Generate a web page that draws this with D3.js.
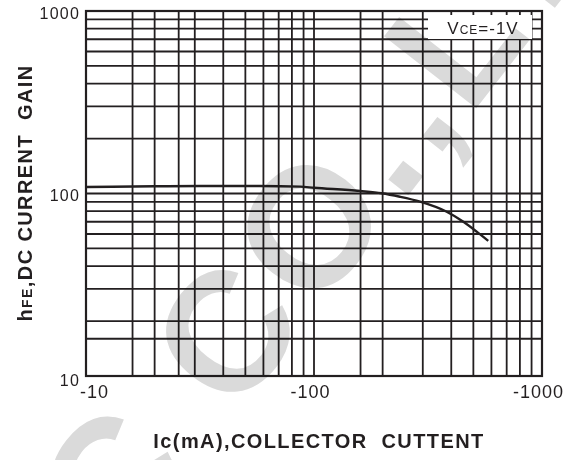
<!DOCTYPE html>
<html><head><meta charset="utf-8">
<script src="https://cdn.jsdelivr.net/npm/d3@7"></script>
<style>body{margin:0;background:#fff}svg{display:block}</style></head>
<body>
<svg id="c" width="579" height="460"></svg>
<script>
// ---- data ----
const xTickValues = [10, 100, 1000];
const xTickLabels = ["-10", "-100", "-1000"];
const yTickValues = [10, 100, 1000];
const yTickLabels = ["10", "100", "1000"];
const xGridValues = [16, 20, 25.5, 30, 40, 50, 60, 70, 80, 90, 100, 160, 200, 300, 400, 500, 600, 700, 800, 900];
const yGridValues = [16, 20, 30, 40, 50, 60, 70, 80, 90, 100, 200, 300, 400, 500, 600, 700, 800, 900];
const icValues  = [10, 20, 31.6, 58, 87, 100, 159, 198, 238, 292, 382, 452, 517, 581];
const hfeValues = [108.5, 109.5, 110, 110, 109, 107.5, 103.2, 100.3, 96, 90.2, 79.4, 70, 61.8, 55];
const watermarkText = "IC CO.,LTD";

const FONT = "'Liberation Sans', Arial, Helvetica, sans-serif";
const INK = "#231f20";
const svg = d3.select("#c");
const W = 579, H = 460;
const L = 86, R = 542, T = 11, B = 376;

const x = d3.scaleLog().domain([10, 1000]).range([L, R]);
const y = d3.scaleLog().domain([10, 1000]).range([B, T]);

svg.append("rect").attr("width", W).attr("height", H).attr("fill", "#fff");

const g = svg.append("g");
// grid
g.selectAll("line.vg").data(xGridValues).join("line")
  .attr("x1", d => x(d)).attr("x2", d => x(d)).attr("y1", T).attr("y2", B)
  .attr("stroke", INK).attr("stroke-width", 1.8);
g.selectAll("line.hg").data(yGridValues).join("line")
  .attr("y1", d => y(d)).attr("y2", d => y(d)).attr("x1", L).attr("x2", R)
  .attr("stroke", INK).attr("stroke-width", 1.8);

// legend box
g.append("rect").attr("x", 428).attr("y", 15).attr("width", 104).attr("height", 24).attr("fill", "#fff");
const lt = g.append("text").attr("x", 483).attr("y", 34).attr("text-anchor", "middle")
  .attr("font-family", FONT).attr("font-size", 17).attr("letter-spacing", 1).attr("fill", INK);
lt.append("tspan").text("V");
lt.append("tspan").attr("font-size", 12).text("CE");
lt.append("tspan").text("=-1V");

// frame
g.append("rect").attr("x", L).attr("y", T).attr("width", R - L).attr("height", B - T)
  .attr("fill", "none").attr("stroke", INK).attr("stroke-width", 2.2);

// curve
const pts = icValues.map((v, i) => [v, hfeValues[i]]);
g.append("path").datum(pts)
  .attr("d", d3.line().x(d => x(d[0])).y(d => y(d[1])).curve(d3.curveMonotoneX))
  .attr("fill", "none").attr("stroke", INK).attr("stroke-width", 2.4);

// x axis labels
const xa = d3.axisBottom(x).tickValues(xTickValues).tickSize(0)
  .tickFormat((d, i) => xTickLabels[i]);
const xg = svg.append("g").attr("transform", `translate(0,${B})`).call(xa);
xg.select(".domain").remove();
xg.selectAll("text").attr("font-family", FONT).attr("font-size", 18).attr("letter-spacing", 1)
  .attr("fill", INK).attr("dy", "0.71em").attr("y", 9)
  .attr("dx", d => d === 10 ? 8 : -4);

// y axis labels
const ya = d3.axisLeft(y).tickValues(yTickValues).tickSize(0)
  .tickFormat((d, i) => yTickLabels[i]);
const yg = svg.append("g").attr("transform", `translate(${L},0)`).call(ya);
yg.select(".domain").remove();
yg.selectAll("text").attr("font-family", FONT).attr("font-size", 16).attr("letter-spacing", 1.2)
  .attr("fill", INK).attr("x", -6)
  .attr("dy", d => d === 10 ? "0.6em" : "0.45em");

// axis titles
svg.append("text").attr("x", 319).attr("y", 448).attr("text-anchor", "middle")
  .attr("font-family", FONT).attr("font-weight", "bold").attr("font-size", 20)
  .attr("letter-spacing", 1.4).attr("fill", INK)
  .attr("xml:space", "preserve").text("Ic(mA),COLLECTOR  CUTTENT");

const yt = svg.append("text").attr("transform", "translate(32,193) rotate(-90)")
  .attr("text-anchor", "middle")
  .attr("font-family", FONT).attr("font-weight", "bold").attr("font-size", 20)
  .attr("letter-spacing", 1.4).attr("fill", INK);
yt.append("tspan").text("h");
yt.append("tspan").attr("font-size", 14).text("FE");
yt.append("tspan").attr("xml:space", "preserve").text(",DC CURRENT  GAIN");

// watermark
svg.append("text").attr("transform", "translate(86,608) rotate(-52)")
  .attr("font-family", FONT).attr("font-weight", "bold").attr("font-size", 170)
  .attr("letter-spacing", 8)
  .attr("fill", "#dadada").style("mix-blend-mode", "multiply")
  .text(watermarkText);
</script>
</body></html>
